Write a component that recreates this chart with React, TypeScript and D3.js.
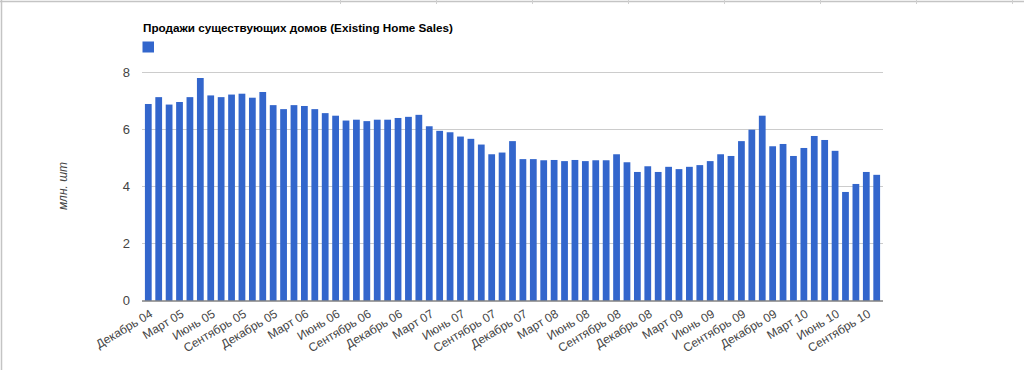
import { useEffect, useRef } from 'react'
import * as d3 from 'd3'

// Existing home sales, millions of units (SAAR), Dec 2004 - Oct 2010
const categories = [
  'Декабрь 04',
  'Январь 05', 'Февраль 05', 'Март 05', 'Апрель 05', 'Май 05', 'Июнь 05', 'Июль 05', 'Август 05', 'Сентябрь 05', 'Октябрь 05', 'Ноябрь 05', 'Декабрь 05',
  'Январь 06', 'Февраль 06', 'Март 06', 'Апрель 06', 'Май 06', 'Июнь 06', 'Июль 06', 'Август 06', 'Сентябрь 06', 'Октябрь 06', 'Ноябрь 06', 'Декабрь 06',
  'Январь 07', 'Февраль 07', 'Март 07', 'Апрель 07', 'Май 07', 'Июнь 07', 'Июль 07', 'Август 07', 'Сентябрь 07', 'Октябрь 07', 'Ноябрь 07', 'Декабрь 07',
  'Январь 08', 'Февраль 08', 'Март 08', 'Апрель 08', 'Май 08', 'Июнь 08', 'Июль 08', 'Август 08', 'Сентябрь 08', 'Октябрь 08', 'Ноябрь 08', 'Декабрь 08',
  'Январь 09', 'Февраль 09', 'Март 09', 'Апрель 09', 'Май 09', 'Июнь 09', 'Июль 09', 'Август 09', 'Сентябрь 09', 'Октябрь 09', 'Ноябрь 09', 'Декабрь 09',
  'Январь 10', 'Февраль 10', 'Март 10', 'Апрель 10', 'Май 10', 'Июнь 10', 'Июль 10', 'Август 10', 'Сентябрь 10', 'Октябрь 10',
]

const sales = [
  6.88,
  7.12, 6.86, 6.95, 7.12, 7.79, 7.18, 7.12, 7.21, 7.24, 7.10, 7.30, 6.84,
  6.70, 6.84, 6.81, 6.70, 6.56, 6.47, 6.30, 6.33, 6.28, 6.33, 6.33, 6.39,
  6.43, 6.50, 6.10, 5.94, 5.89, 5.74, 5.66, 5.46, 5.12, 5.18, 5.58, 4.95,
  4.95, 4.91, 4.92, 4.88, 4.92, 4.88, 4.91, 4.91, 5.12, 4.84, 4.50, 4.70,
  4.50, 4.68, 4.60, 4.68, 4.74, 4.88, 5.12, 5.06, 5.58, 5.98, 6.47, 5.40,
  5.48, 5.06, 5.34, 5.76, 5.62, 5.24, 3.80, 4.08, 4.50, 4.40,
]

const tickLabels = [
  'Декабрь 04', 'Март 05', 'Июнь 05', 'Сентябрь 05', 'Декабрь 05', 'Март 06', 'Июнь 06', 'Сентябрь 06',
  'Декабрь 06', 'Март 07', 'Июнь 07', 'Сентябрь 07', 'Декабрь 07', 'Март 08', 'Июнь 08', 'Сентябрь 08',
  'Декабрь 08', 'Март 09', 'Июнь 09', 'Сентябрь 09', 'Декабрь 09', 'Март 10', 'Июнь 10', 'Сентябрь 10',
]

const yTicks = [0, 2, 4, 6, 8]

const title = 'Продажи существующих домов (Existing Home Sales)'
const yTitle = 'млн. шт'

export default function App() {
  const svgRef = useRef<SVGSVGElement>(null)

  useEffect(() => {
    if (!svgRef.current) return
    const svg = d3.select(svgRef.current)
    svg.selectAll('*').remove()

    const font = "Arial, 'Liberation Sans', sans-serif"
    const left = 142
    const right = 883
    const top = 72
    const bottom = 300.5

    // frame edges of the page screenshot
    svg.append('line')
      .attr('x1', 0).attr('x2', 1024).attr('y1', 1.5).attr('y2', 1.5)
      .attr('stroke', '#c4c4c4').attr('stroke-width', 1.5)
    svg.append('line')
      .attr('x1', 1.5).attr('x2', 1.5).attr('y1', 0).attr('y2', 370)
      .attr('stroke', '#c4c4c4').attr('stroke-width', 1.5)
    d3.range(8).forEach(k => {
      svg.append('line')
        .attr('x1', 340.5 + k * 96).attr('x2', 340.5 + k * 96)
        .attr('y1', 0).attr('y2', 4)
        .attr('stroke', '#cfcfcf')
    })

    const x = d3.scaleBand<string>()
      .domain(categories)
      .range([left, right])
      .paddingInner(0.35)
      .paddingOuter(0.28)

    const y = d3.scaleLinear()
      .domain([0, 8])
      .range([bottom, top])

    // gridlines
    yTicks.filter(t => t > 0).forEach(t => {
      svg.append('line')
        .attr('x1', left).attr('x2', right)
        .attr('y1', Math.round(y(t)) + 0.5).attr('y2', Math.round(y(t)) + 0.5)
        .attr('stroke', '#cccccc')
    })

    // bars
    svg.append('g')
      .selectAll('rect')
      .data(sales)
      .join('rect')
      .attr('x', (_d, i) => x(categories[i])!)
      .attr('y', d => y(d))
      .attr('width', x.bandwidth())
      .attr('height', d => y(0) - y(d))
      .attr('fill', '#3366cc')

    // baseline
    svg.append('line')
      .attr('x1', left).attr('x2', right)
      .attr('y1', bottom + 0.5).attr('y2', bottom + 0.5)
      .attr('stroke', '#444')
      .attr('stroke-width', 1)

    // y tick labels
    yTicks.forEach(t => {
      svg.append('text')
        .attr('x', 130)
        .attr('y', y(t))
        .attr('dy', '0.35em')
        .attr('text-anchor', 'end')
        .attr('font-family', font)
        .attr('font-size', 13)
        .attr('fill', '#444')
        .text(t)
    })

    // x tick labels, rotated
    tickLabels.forEach(label => {
      const cx = x(label)! + x.bandwidth() / 2
      svg.append('text')
        .attr('transform', `translate(${cx + 3},${bottom + 12}) rotate(-31)`)
        .attr('text-anchor', 'end')
        .attr('dy', '0.35em')
        .attr('font-family', font)
        .attr('font-size', 12)
        .attr('fill', '#444')
        .text(label)
    })

    // y axis title
    svg.append('text')
      .attr('transform', 'translate(67,186) rotate(-90)')
      .attr('text-anchor', 'middle')
      .attr('font-family', font)
      .attr('font-size', 12)
      .attr('font-style', 'italic')
      .attr('fill', '#444')
      .text(yTitle)

    // title + legend swatch
    svg.append('text')
      .attr('x', 143)
      .attr('y', 32)
      .attr('font-family', font)
      .attr('font-size', 11.7)
      .attr('font-weight', 'bold')
      .attr('fill', '#000')
      .text(title)

    svg.append('rect')
      .attr('x', 142.5).attr('y', 41.5)
      .attr('width', 11.5).attr('height', 11)
      .attr('fill', '#3366cc')
  }, [])

  return (
    <div style={{ position: 'absolute', left: 0, top: 0, width: 1024, height: 370, background: '#fff' }}>
      <svg ref={svgRef} width={1024} height={370} style={{ display: 'block' }} />
    </div>
  )
}
